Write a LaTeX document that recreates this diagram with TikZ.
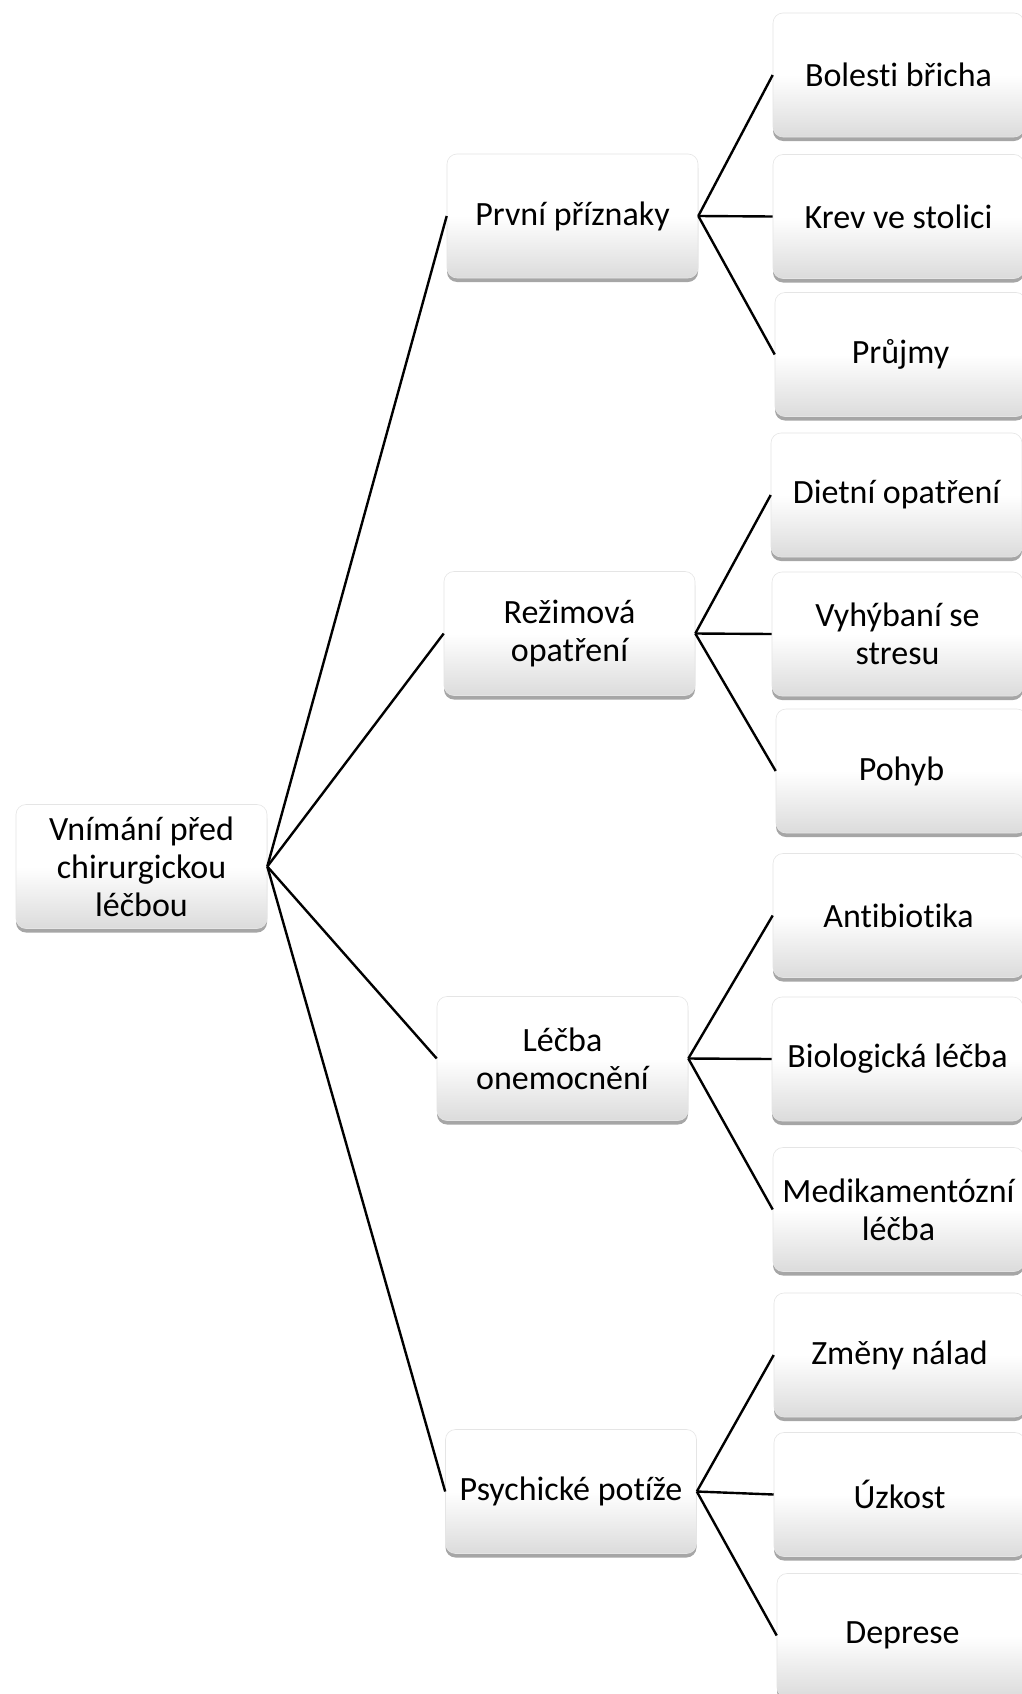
\documentclass[tikz,border=0pt]{standalone}
\usepackage{fontspec}
\setmainfont{Carlito}[Ligatures=NoCommon]
\usetikzlibrary{shadows}
\tikzset{
  box/.style={rounded corners=10pt, minimum width=251pt, minimum height=124pt,
    draw=black!10, line width=0.6pt, align=center, inner sep=4pt,
    top color=white, bottom color=black!14, middle color=white,
    font=\fontsize{34}{38}\selectfont,
    drop shadow={shadow xshift=0pt, shadow yshift=-4pt, fill=black, opacity=0.35}},
  conn/.style={line width=2.4pt, black}
}
\begin{document}
\begin{tikzpicture}[x=1pt,y=-1pt]
\useasboundingbox[fill=white] (0,0) rectangle (1022,1694);
\node[box] (r) at (141.5,866.5) {Vnímání před\\chirurgickou\\léčbou};
\node[box] (p1) at (572.5,216) {První příznaky};
\node[box] (p2) at (569.5,633.5) {Režimová\\opatření};
\node[box] (p3) at (562.5,1058.5) {Léčba\\onemocnění};
\node[box] (p4) at (571,1491.5) {Psychické potíže};
\node[box] (b1) at (898.5,75) {Bolesti břicha};
\node[box] (b2) at (898.5,216.5) {Krev ve stolici};
\node[box] (b3) at (900.5,354.5) {Průjmy};
\node[box] (b4) at (896.5,495) {Dietní opatření};
\node[box] (b5) at (897.5,634) {Vyhýbaní se\\stresu};
\node[box] (b6) at (901.5,771) {Pohyb};
\node[box] (b7) at (898.5,915.5) {Antibiotika};
\node[box] (b8) at (897.5,1059) {Biologická léčba};
\node[box] (b9) at (898.5,1209.5) {Medikamentózní\\léčba};
\node[box] (b10) at (899.5,1355) {Změny nálad};
\node[box] (b11) at (899.5,1494.5) {Úzkost};
\node[box] (b12) at (902.5,1635.5) {Deprese};
\foreach \p in {p1,p2,p3,p4} \draw[conn] (r.east) -- (\p.west);
\foreach \b in {b1,b2,b3} \draw[conn] (p1.east) -- (\b.west);
\foreach \b in {b4,b5,b6} \draw[conn] (p2.east) -- (\b.west);
\foreach \b in {b7,b8,b9} \draw[conn] (p3.east) -- (\b.west);
\foreach \b in {b10,b11,b12} \draw[conn] (p4.east) -- (\b.west);
\end{tikzpicture}
\end{document}
